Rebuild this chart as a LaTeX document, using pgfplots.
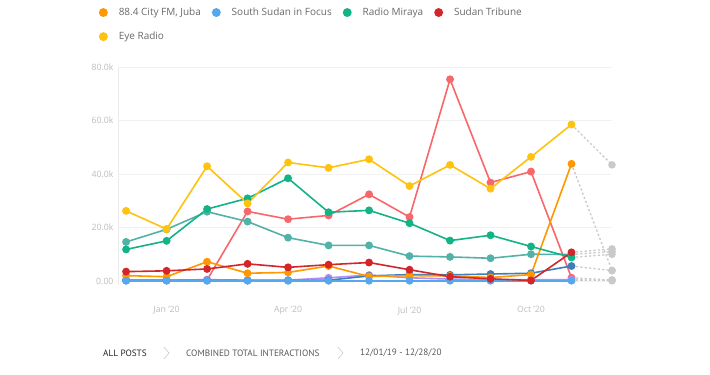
\documentclass[border=0pt]{standalone}
\usepackage{fontspec}
\setmainfont{Open Sans}
\newfontfamily\crumb{PT Sans}
\usepackage{pgfplots}
\pgfplotsset{compat=1.18}
\definecolor{cEye}{HTML}{FFC20E}
\definecolor{cCity}{HTML}{FF9800}
\definecolor{cMir}{HTML}{12B386}
\definecolor{cTrib}{HTML}{D3262B}
\definecolor{cSSF}{HTML}{55A8EE}
\definecolor{cSal}{HTML}{F8676A}
\definecolor{cTeal}{HTML}{52B2A8}
\definecolor{cSteel}{HTML}{3F7EB8}
\definecolor{cPur}{HTML}{B58BF5}
\definecolor{cDash}{HTML}{C9C9C9}
\definecolor{cTick}{HTML}{BDBDBD}
\definecolor{cText}{HTML}{6A6A6A}
\begin{document}
\begin{tikzpicture}[x=1pt,y=1pt]
\fill[white] (0,0) rectangle (710,375);
\useasboundingbox (0,0) rectangle (710,375);
\begin{axis}[
  at={(118pt,90pt)}, anchor=south west,
  scale only axis, width=494pt, height=218pt,
  xmin=-0.2, xmax=12, ymin=-1.5, ymax=80,
  axis lines*=left,
  x axis line style={draw=none},
  y axis line style={draw=black!8, line width=0.6pt},
  ymajorgrids, grid style={draw=black!5, line width=0.6pt},
  major tick style={draw=none},
  ytick={0,20,40,60,80},
  yticklabels={0.00,20.0k,40.0k,60.0k,80.0k},
  xtick={1,4,7,10},
  xticklabels={Jan '20,Apr '20,Jul '20,Oct '20},
  tick label style={font=\fontsize{8.7}{10}\selectfont, text=cTick},
  xticklabel style={yshift=-18pt},
  yticklabel style={xshift=-1pt},
  clip=false,
  every axis plot/.append style={line width=1.6pt, mark=*, mark size=3.1pt},
  legend columns=4,
  legend style={draw=none, fill=none, at={(-0.045,1.29)}, anchor=north west,
    font=\fontsize{10}{12}\selectfont, text=cText, column sep=9pt, row sep=11pt},
  legend cell align=left,
  legend image code/.code={\fill[#1] (2.5pt,0pt) circle (3.6pt);},
]
% gray dashed extensions (Nov -> Dec '20)
\pgfplotsset{dashseg/.style={forget plot, color=cDash, line width=1.3pt, dash pattern=on 2.2pt off 2.2pt, mark indices={2}, mark options={solid, fill=cDash}}}
\addplot[dashseg] coordinates {(11,58.5) (12,43.4)};
\addplot[dashseg] coordinates {(11,43.8) (12,3.9)};
\addplot[dashseg] coordinates {(11,5.6) (12,3.9)};
\addplot[dashseg] coordinates {(11,10.7) (12,12.0)};
\addplot[dashseg] coordinates {(11,9.9) (12,11.0)};
\addplot[dashseg] coordinates {(11,8.8) (12,10.0)};
\addplot[dashseg] coordinates {(11,1.2) (12,0.4)};
\addplot[dashseg] coordinates {(11,0.5) (12,0.2)};
\addplot[dashseg] coordinates {(11,0.1) (12,0.1)};
% unlisted series
\addplot[forget plot, color=cSal, mark options={fill=cSal}] coordinates {
(0,0.3) (1,0.3) (2,0.4) (3,26.0) (4,23.1) (5,24.5) (6,32.4) (7,23.9) (8,75.4) (9,36.8) (10,40.9) (11,1.2)};
\addplot[forget plot, color=cTeal, mark options={fill=cTeal}] coordinates {
(0,14.6) (1,19.3) (2,25.9) (3,22.2) (4,16.2) (5,13.3) (6,13.3) (7,9.3) (8,9.0) (9,8.5) (10,10.0) (11,9.9)};
\addplot[forget plot, color=cPur, mark options={fill=cPur}] coordinates {
(0,0.3) (1,0.3) (2,0.5) (3,0.3) (4,0.3) (5,1.2) (6,2.2) (7,1.2) (8,0.7) (9,0.5) (10,0.5) (11,0.5)};
\addplot[forget plot, color=cSteel, mark options={fill=cSteel}] coordinates {
(0,0.2) (1,0.2) (2,0.2) (3,0.2) (4,0.2) (5,0.3) (6,1.9) (7,2.4) (8,2.3) (9,2.6) (10,2.9) (11,5.6)};
% listed series
\addplot[color=cCity, mark options={fill=cCity}] coordinates {
(0,2.0) (1,1.6) (2,7.2) (3,2.9) (4,3.2) (5,5.6) (6,1.7) (7,2.0) (8,1.9) (9,1.3) (10,2.4) (11,43.8)};
\addlegendentry{88.4 City FM, Juba}
\addplot[color=cSSF, mark options={fill=cSSF}] coordinates {
(0,0.1) (1,0.1) (2,0.1) (3,0.1) (4,0.1) (5,0.1) (6,0.1) (7,0.1) (8,0.1) (9,0.1) (10,0.1) (11,0.1)};
\addlegendentry{South Sudan in Focus\hspace{11pt}}
\addplot[color=cMir, mark options={fill=cMir}] coordinates {
(0,11.8) (1,15.0) (2,26.9) (3,30.9) (4,38.4) (5,25.7) (6,26.4) (7,21.6) (8,15.1) (9,17.1) (10,12.9) (11,8.8)};
\addlegendentry{Radio Miraya\hspace{-9pt}}
\addplot[color=cTrib, mark options={fill=cTrib}] coordinates {
(0,3.5) (1,3.8) (2,4.5) (3,6.4) (4,5.1) (5,6.1) (6,6.9) (7,4.2) (8,1.6) (9,0.8) (10,0.2) (11,10.7)};
\addlegendentry{Sudan Tribune}
\addplot[color=cEye, mark options={fill=cEye}] coordinates {
(0,26.2) (1,19.4) (2,42.9) (3,29.0) (4,44.3) (5,42.3) (6,45.5) (7,35.5) (8,43.4) (9,34.5) (10,46.4) (11,58.5)};
\addlegendentry{Eye Radio}
\end{axis}
% breadcrumb
\node[anchor=west, inner sep=0, font=\crumb\fontsize{9.2}{11}\selectfont, text=black!85] at (103,22) {ALL POSTS};
\draw[black!20, line width=0.6pt] (164,28) -- (169,22) -- (164,16);
\node[anchor=west, inner sep=0, font=\crumb\fontsize{9.2}{11}\selectfont, text=black!65] at (186,22) {COMBINED TOTAL INTERACTIONS};
\draw[black!20, line width=0.6pt] (338,28) -- (343,22) -- (338,16);
\node[anchor=west, inner sep=0, font=\crumb\fontsize{9.2}{11}\selectfont, text=black!65] at (360,22) {12/01/19 - 12/28/20};
\end{tikzpicture}
\end{document}
